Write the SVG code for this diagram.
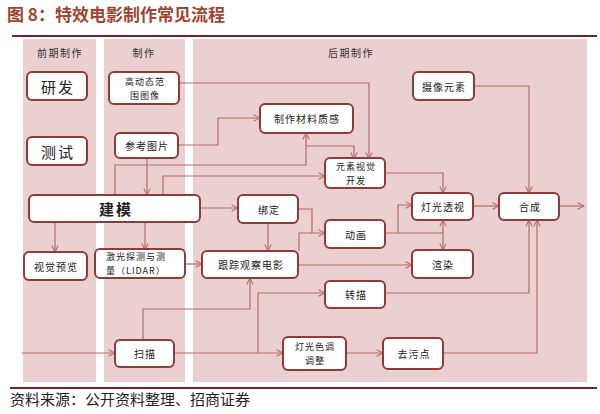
<svg xmlns="http://www.w3.org/2000/svg" width="600" height="414" viewBox="0 0 600 414">
<style>
.col{fill:#EAD0D0}
.box{fill:#fff;stroke:#8F3B3B;stroke-width:2}
.t{font-family:"Noto Sans CJK SC","Liberation Sans",sans-serif;font-size:10px;fill:#222;text-anchor:middle;dominant-baseline:central;letter-spacing:1px}
.s{font-size:9px}
.big{font-size:15px;letter-spacing:2px}
.hdr{font-family:"Noto Sans CJK SC","Liberation Sans",sans-serif;font-size:10px;fill:#333;text-anchor:middle;dominant-baseline:central;letter-spacing:1.5px}
.c{fill:none;stroke:#B86A6A;stroke-width:1.2}
.a{marker-end:url(#arr)}
</style>
<defs>
<marker id="arr" viewBox="0 0 10 10" refX="9" refY="5" markerWidth="8" markerHeight="8" orient="auto" markerUnits="userSpaceOnUse">
<path d="M1,1 L9,5 L1,9" fill="none" stroke="#B86A6A" stroke-width="1.3"/>
</marker>
</defs>
<rect width="600" height="414" fill="#fff"/>
<text x="7" y="21" font-family="Noto Sans CJK SC,Liberation Sans,sans-serif" font-size="17" font-weight="bold" fill="#A04530">图 8：特效电影制作常见流程</text>
<line x1="12" y1="36" x2="597" y2="36" stroke="#7A1F2A" stroke-width="2"/>
<g id="columns">
<rect class="col" x="23" y="39" width="73" height="343"/>
<rect class="col" x="104" y="39" width="81" height="343"/>
<rect class="col" x="193" y="39" width="394" height="343"/>
<text class="hdr" x="60" y="52">前期制作</text>
<text class="hdr" x="144" y="52">制作</text>
<text class="hdr" x="351" y="52">后期制作</text>
</g>
<g id="connectors">
<path class="c a" d="M179,83 H369 V159"/>
<path class="c a" d="M178,145 H218 V118 H260"/>
<path class="c a" d="M147,158 V195"/>
<path class="c a" d="M115,195 V165 H306 V133"/>
<path class="c a" d="M306,146 H354 V159"/>
<path class="c a" d="M163,195 V176 H325"/>
<path class="c a" d="M200,208 H238"/>
<path class="c a" d="M55,222 V252"/>
<path class="c a" d="M145,222 V250"/>
<path class="c a" d="M185,264 H202"/>
<path class="c a" d="M268,223 V251"/>
<path class="c a" d="M298,209 H312 V233 H325"/>
<path class="c" d="M299,251 V233 H312"/>
<path class="c a" d="M385,233 H398 V205 H412"/>
<path class="c" d="M398,233 H443"/>
<path class="c a" d="M443,233 V220"/>
<path class="c a" d="M443,233 V250"/>
<path class="c a" d="M385,173 H443 V193"/>
<path class="c a" d="M473,206 H499"/>
<path class="c a" d="M474,86 H529 V193"/>
<path class="c a" d="M559,206 H584"/>
<path class="c a" d="M298,265 H412"/>
<path class="c a" d="M385,293 H529 V220"/>
<path class="c a" d="M443,353 H537 V220"/>
<path class="c a" d="M174,353 H283"/>
<path class="c a" d="M258,353 V293 H325"/>
<path class="c a" d="M143,340 V309 H250 V278"/>
<path class="c a" d="M22,353 H115"/>
<path class="c a" d="M346,353 H383"/>
</g>
<g id="n-yanfa"><rect class="box" x="27" y="72" width="60" height="28" rx="5"/><text class="t big" x="58" y="86">研发</text></g>
<g id="n-hdr"><rect class="box" x="109" y="72" width="70" height="32" rx="5"/><text class="t s" x="145" y="81">高动态范</text><text class="t s" x="145" y="95">围图像</text></g>
<g id="n-ceshi"><rect class="box" x="27" y="137" width="60" height="28" rx="5"/><text class="t big" x="58" y="151">测试</text></g>
<g id="n-cankao"><rect class="box" x="115" y="133" width="63" height="25" rx="5"/><text class="t" x="147" y="145.5">参考图片</text></g>
<g id="n-jianmo"><rect class="box" x="29" y="195" width="171" height="27" rx="5"/><text class="t big" x="116" y="208.5" font-weight="bold">建模</text></g>
<g id="n-shijue"><rect class="box" x="24" y="252" width="63" height="28" rx="5"/><text class="t" x="56" y="266">视觉预览</text></g>
<g id="n-lidar"><rect class="box" x="95" y="249" width="90" height="29" rx="5"/><text class="t s" x="106" y="256.5" style="text-anchor:start">激光探测与测</text><text class="t s" x="106" y="270.5" style="text-anchor:start">量（LIDAR）</text></g>
<g id="n-genzong"><rect class="box" x="202" y="251" width="96" height="27" rx="5"/><text class="t" x="251" y="264.5">跟踪观察电影</text></g>
<g id="n-bangding"><rect class="box" x="238" y="195" width="60" height="28" rx="5"/><text class="t" x="269" y="209">绑定</text></g>
<g id="n-donghua"><rect class="box" x="325" y="220" width="60" height="28" rx="5"/><text class="t" x="356" y="234">动画</text></g>
<g id="n-zhizuo"><rect class="box" x="260" y="104" width="93" height="29" rx="5"/><text class="t" x="307" y="118.5">制作材料质感</text></g>
<g id="n-yuansu"><rect class="box" x="325" y="158" width="60" height="30" rx="5"/><text class="t s" x="356" y="166">元素视觉</text><text class="t s" x="356" y="180">开发</text></g>
<g id="n-dengguang"><rect class="box" x="412" y="193" width="61" height="27" rx="5"/><text class="t" x="443" y="206.5">灯光透视</text></g>
<g id="n-xuanran"><rect class="box" x="412" y="250" width="61" height="28" rx="5"/><text class="t" x="443" y="264">渲染</text></g>
<g id="n-hecheng"><rect class="box" x="499" y="193" width="60" height="27" rx="5"/><text class="t" x="530" y="206.5">合成</text></g>
<g id="n-shexiang"><rect class="box" x="413" y="72" width="61" height="28" rx="5"/><text class="t" x="444" y="86">摄像元素</text></g>
<g id="n-zhuanmiao"><rect class="box" x="325" y="281" width="60" height="27" rx="5"/><text class="t" x="356" y="294.5">转描</text></g>
<g id="n-saomiao"><rect class="box" x="115" y="340" width="59" height="27" rx="5"/><text class="t" x="145" y="353.5">扫描</text></g>
<g id="n-tiaose"><rect class="box" x="283" y="337" width="63" height="33" rx="5"/><text class="t s" x="315" y="346.5">灯光色调</text><text class="t s" x="315" y="360.5">调整</text></g>
<g id="n-quwu"><rect class="box" x="383" y="338" width="60" height="31" rx="5"/><text class="t" x="414" y="353.5">去污点</text></g>
<line x1="10" y1="388" x2="597" y2="388" stroke="#7A1F2A" stroke-width="2"/>
<text x="10" y="405" font-family="Noto Sans CJK SC,Liberation Sans,sans-serif" font-size="15" fill="#222">资料来源：公开资料整理、招商证券</text>
</svg>
